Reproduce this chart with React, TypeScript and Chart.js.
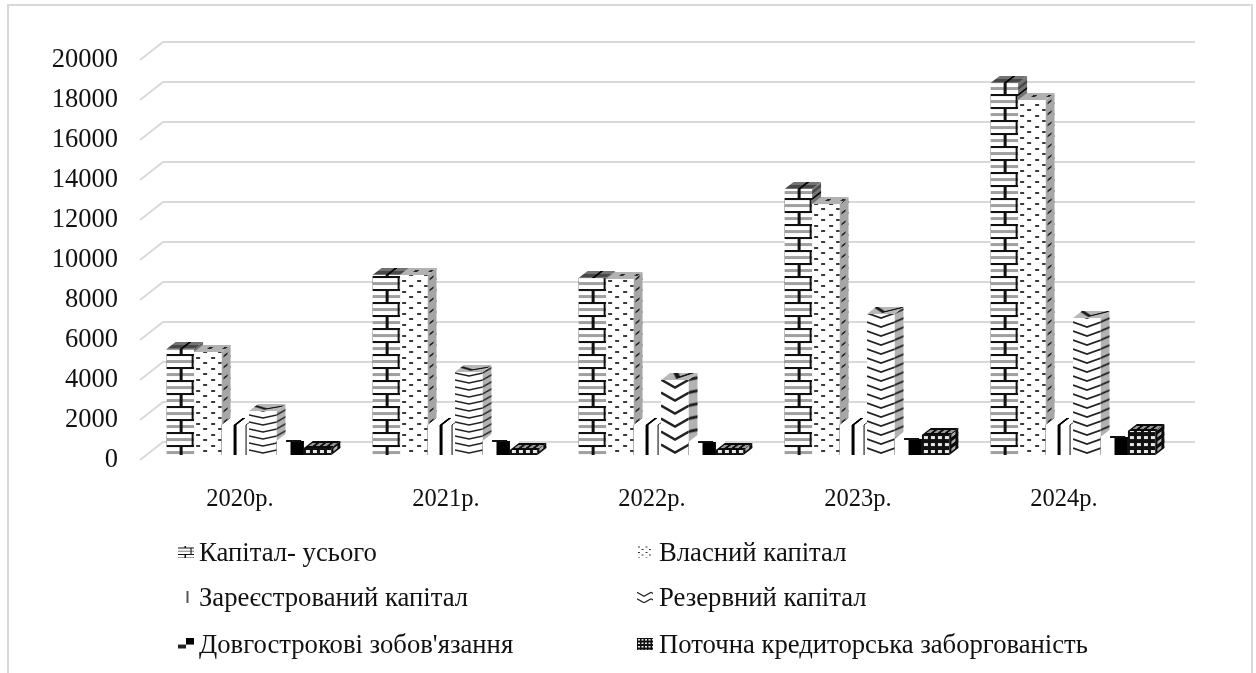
import React, { useEffect, useRef } from "react";
import { Chart, registerables } from "chart.js";

Chart.register(...registerables);

const categories = ["2020р.", "2021р.", "2022р.", "2023р.", "2024р."];
const seriesNames = [
  "Капітал- усього",
  "Власний капітал",
  "Зареєстрований капітал",
  "Резервний капітал",
  "Довгострокові зобов'язання",
  "Поточна кредиторська заборгованість",
];
const capitalTotal = [5300, 9000, 8850, 13300, 18600];
const ownCapital = [5150, 9000, 8800, 12550, 17750];
const registeredCapital = [1500, 1500, 1500, 1500, 1500];
const reserveCapital = [2200, 4150, 3750, 7050, 6850];
const longTermLiabilities = [700, 700, 650, 800, 900];
const currentPayables = [350, 250, 250, 1000, 1200];

const GRID = "#d9d9d9";
const FONT = '"Liberation Serif"';
const DX = 9;
const DY = 7;

type Paint = (c: CanvasRenderingContext2D, w: number, h: number) => void;

function tile(ctx: CanvasRenderingContext2D, w: number, h: number, paint: Paint) {
  const cv = document.createElement("canvas");
  cv.width = w;
  cv.height = h;
  const c = cv.getContext("2d")!;
  c.fillStyle = "#fff";
  c.fillRect(0, 0, w, h);
  paint(c, w, h);
  return ctx.createPattern(cv, "repeat")!;
}

const paintBrick: Paint = (c, w) => {
  const m = Math.round(w / 2);
  c.fillStyle = "#a0a0a0";
  c.fillRect(0, 9, w, 3);
  c.fillRect(0, 22, w, 3);
  c.fillStyle = "#111";
  c.fillRect(0, 3, w, 2);
  c.fillRect(0, 16, w, 2);
  c.fillRect(m - 1, 18, 3, 8);
  c.fillRect(m - 1, 0, 3, 3);
  c.fillRect(w - 2, 5, 2, 11);
};

const paintDots: Paint = (c) => {
  c.fillStyle = "#3a3a3a";
  c.fillRect(2, 1, 4, 2);
  c.fillRect(9, 6, 4, 2);
};

const paintStripes: Paint = (c) => {
  c.fillStyle = "#000";
  c.fillRect(12, 0, 3, 25);
  c.fillRect(24, 0, 3, 25);
};

const chevron = (lw: number, amp: number): Paint => (c, w, h) => {
  c.strokeStyle = "#222";
  c.lineWidth = lw;
  for (let k = -1; k <= 1; k++) {
    c.beginPath();
    c.moveTo(0, h / 2 - amp / 2 + k * h);
    c.lineTo(w / 2, h / 2 + amp / 2 + k * h);
    c.lineTo(w, h / 2 - amp / 2 + k * h);
    c.stroke();
  }
};

const paintChecker: Paint = (c) => {
  c.fillStyle = "#000";
  c.fillRect(14, 18, 14, 18);
  c.fillRect(0, 0, 14, 18);
};

const paintWeave: Paint = (c) => {
  c.fillStyle = "#111";
  c.fillRect(0, 0, 7, 7);
  c.fillStyle = "#e8e8e8";
  c.fillRect(2, 2, 4, 3);
};

const paintLegendStripe: Paint = (c) => {
  c.fillStyle = "#555";
  c.fillRect(17, 0, 4, 24);
};

const paintLegendStep: Paint = (c) => {
  c.fillStyle = "#000";
  c.fillRect(16, 0, 16, 13);
  c.fillStyle = "#222";
  c.fillRect(0, 13, 16, 8);
};

function shiftPattern(p: any, x: number, y: number) {
  if (p && p.setTransform) p.setTransform(new DOMMatrix().translate(x, y));
}

const depthStyles = [
  { side: "rgba(0,0,0,0.55)", top: "rgba(0,0,0,0.55)" },
  { side: "rgba(0,0,0,0.35)", top: "rgba(0,0,0,0.3)" },
  { side: "rgba(0,0,0,0)", top: "rgba(0,0,0,0)" },
  { side: "rgba(0,0,0,0.3)", top: "rgba(0,0,0,0.28)" },
  { side: "rgba(0,0,0,0)", top: "rgba(0,0,0,0)" },
  { side: "rgba(0,0,0,0.25)", top: "rgba(0,0,0,0.35)" },
];

function drawBar3D(ctx: CanvasRenderingContext2D, el: any, ds: number) {
  const { x, y, base, width } = el.getProps(["x", "y", "base", "width"], true);
  const left = x - width / 2;
  const right = x + width / 2;
  const fill = el.options.backgroundColor;
  const face = ds === 4 ? "#fff" : fill;
  const style = depthStyles[ds];
  const shade = (f: any) => {
    ctx.fillStyle = f;
    ctx.fill();
  };

  ctx.save();
  ctx.transform(1, -DY / DX, 0, 1, right, y);
  shiftPattern(fill, 0, base - y);
  ctx.beginPath();
  ctx.rect(0, 0, DX, base - y);
  shade(face);
  shade(style.side);
  ctx.restore();

  ctx.save();
  ctx.transform(1, 0, -DX / DY, 1, left, y);
  shiftPattern(fill, 0, 0);
  ctx.beginPath();
  ctx.rect(0, -DY, width, DY);
  shade(face);
  shade(style.top);
  ctx.restore();

  shiftPattern(fill, left, base);
  el.draw(ctx);

  if (ds === 4) {
    ctx.fillStyle = "#111";
    ctx.fillRect(left + width * 0.35, y - 1, width * 0.55, 2);
  }
}

const scenePlugin = {
  id: "scene",
  beforeDraw(chart: any) {
    const c: CanvasRenderingContext2D = chart.ctx;
    c.save();
    c.fillStyle = "#fff";
    c.fillRect(0, 0, chart.width, chart.height);
    c.strokeStyle = GRID;
    c.lineWidth = 2;
    c.strokeRect(8, 5, 1244, 720);
    c.restore();
  },
  beforeDatasetsDraw(chart: any) {
    const c: CanvasRenderingContext2D = chart.ctx;
    const { chartArea: a, scales } = chart;
    c.save();
    c.strokeStyle = GRID;
    c.lineWidth = 2;
    c.filter = "blur(0.5px)";
    scales.y.ticks.forEach((t: any) => {
      const y = scales.y.getPixelForValue(t.value);
      c.beginPath();
      c.moveTo(a.left - 6, y + 5);
      c.lineTo(a.left + 17, y - 13);
      c.lineTo(a.right + 19, y - 13);
      c.stroke();
    });
    c.filter = "blur(0.55px)";
    chart.data.datasets.forEach((_: any, i: number) => {
      chart.getDatasetMeta(i).data.forEach((el: any) => drawBar3D(c, el, i));
    });
    c.restore();
    return false;
  },
  afterDraw(chart: any) {
    const c: CanvasRenderingContext2D = chart.ctx;
    const rows = [553, 598, 645];
    const swatchX = [178, 637];
    const textX = [199, 659];
    c.save();
    chart.data.datasets.forEach((d: any, i: number) => {
      const col = i % 2;
      const y = rows[Math.floor(i / 2)];
      const p = d.legendFill;
      c.save();
      c.filter = "blur(0.4px)";
      c.translate(swatchX[col], y - 7);
      c.scale(0.5, 0.5);
      shiftPattern(p, 0, 0);
      c.fillStyle = p;
      c.fillRect(0, 0, 32, 24);
      c.restore();
      c.fillStyle = "#111";
      c.font = `26.7px ${FONT}`;
      c.textBaseline = "middle";
      c.fillText(d.label, textX[col], y + 1);
    });
    c.restore();
  },
};

export default function App() {
  const ref = useRef<HTMLCanvasElement>(null);
  useEffect(() => {
    const cv = ref.current!;
    const ctx = cv.getContext("2d")!;
    const brick = tile(ctx, 27, 26, paintBrick);
    const dots = tile(ctx, 15, 11, paintDots);
    const stripes = tile(ctx, 25, 25, paintStripes);
    const tight = () => tile(ctx, 28, 7, chevron(1.6, 3));
    const wide = () => tile(ctx, 28, 13, chevron(2.4, 8));
    const medium = () => tile(ctx, 28, 9, chevron(1.8, 5));
    const checker = tile(ctx, 28, 36, paintChecker);
    const weave = tile(ctx, 7, 7, paintWeave);
    const reserve = [tight(), tight(), wide(), medium(), medium()];
    const values = [
      capitalTotal,
      ownCapital,
      registeredCapital,
      reserveCapital,
      longTermLiabilities,
      currentPayables,
    ];
    const fills: any[] = [brick, dots, stripes, reserve, checker, weave];
    const legendFills = [
      tile(ctx, 27, 26, paintBrick),
      tile(ctx, 15, 11, paintDots),
      tile(ctx, 34, 24, paintLegendStripe),
      wide(),
      tile(ctx, 32, 24, paintLegendStep),
      tile(ctx, 7, 7, paintWeave),
    ];
    const chart = new Chart(cv, {
      type: "bar",
      data: {
        labels: categories,
        datasets: seriesNames.map((label, i) => ({
          label,
          data: values[i],
          backgroundColor: fills[i],
          borderWidth: 0,
          categoryPercentage: 0.8,
          barPercentage: 1,
          legendFill: legendFills[i],
        })) as any,
      },
      options: {
        animation: false,
        responsive: false,
        devicePixelRatio: 1,
        layout: { padding: { left: 0, top: 55, right: 80, bottom: 0 } },
        plugins: { legend: { display: false }, title: { display: false }, tooltip: { enabled: false } },
        scales: {
          x: {
            grid: { display: false },
            border: { display: false },
            afterFit: (s: any) => {
              s.height = 218;
            },
            ticks: {
              color: "#111",
              font: { family: FONT, size: 24.5 },
              padding: 22,
              labelOffset: -9,
              maxRotation: 0,
              autoSkip: false,
            },
          },
          y: {
            min: 0,
            max: 20000,
            grid: { display: false, drawTicks: false },
            border: { display: false },
            afterFit: (s: any) => {
              s.width = 146;
            },
            ticks: {
              stepSize: 2000,
              color: "#111",
              font: { family: FONT, size: 26.5 },
              padding: 28,
              labelOffset: 5,
              callback: (v: any) => String(v),
            },
          },
        },
      },
      plugins: [scenePlugin as any],
    });
    return () => chart.destroy();
  }, []);
  return (
    <canvas
      ref={ref}
      width={1256}
      height={673}
      style={{ position: "fixed", left: 0, top: 0, display: "block" }}
    />
  );
}
